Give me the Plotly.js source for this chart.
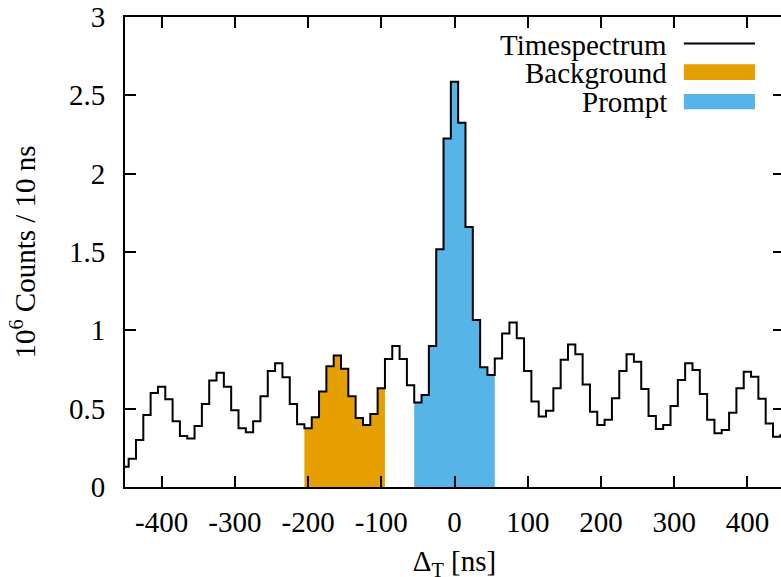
<!DOCTYPE html>
<html>
<head>
<meta charset="utf-8">
<script src="https://cdn.plot.ly/plotly-3.0.1.min.js"></script>
<style>
html,body{margin:0;padding:0;overflow:hidden;background:#fff;}
#chart{width:786px;height:581px;}
</style>
</head>
<body>
<div id="chart"></div>
<script>
// Bin centres (ns), 10 ns bins
const deltaT = [-450,-440,-430,-420,-410,-400,-390,-380,-370,-360,-350,-340,-330,-320,-310,-300,
  -290,-280,-270,-260,-250,-240,-230,-220,-210,-200,-190,-180,-170,-160,-150,-140,-130,-120,-110,-100,
  -90,-80,-70,-60,-50,-40,-30,-20,-10,0,10,20,30,40,50,60,70,80,90,100,
  110,120,130,140,150,160,170,180,190,200,210,220,230,240,250,260,270,280,290,300,
  310,320,330,340,350,360,370,380,390,400,410,420,430,440,450];
// Counts in units of 10^6 per 10 ns
const counts = [0.13,0.18,0.30,0.46,0.60,0.64,0.56,0.42,0.325,0.31,0.39,0.53,0.68,0.73,0.64,0.49,
  0.375,0.35,0.42,0.58,0.74,0.79,0.70,0.53,0.40,0.375,0.445,0.61,0.77,0.84,0.755,0.58,0.44,0.395,0.466,0.63,
  0.817,0.90,0.817,0.65,0.54,0.587,0.90,1.517,2.225,2.587,2.325,1.66,1.066,0.764,0.715,0.82,0.98,1.05,0.95,0.74,
  0.545,0.45,0.487,0.63,0.813,0.91,0.847,0.655,0.48,0.395,0.43,0.566,0.74,0.847,0.80,0.625,0.453,0.37,0.395,0.517,
  0.683,0.79,0.747,0.593,0.43,0.343,0.364,0.474,0.63,0.736,0.704,0.564,0.406,0.32,0.33];
const binWidth = 10;
const backgroundWindow = [-200, -100];
const promptWindow = [-50, 50];
const xTickVals = [-400,-300,-200,-100,0,100,200,300,400];
const xTickText = ["-400","-300","-200","-100","0","100","200","300","400"];
const yTickVals = [0,0.5,1,1.5,2,2.5,3];
const yTickText = ["0","0.5","1","1.5","2","2.5","3"];
const legendLabels = ["Timespectrum","Background","Prompt"];
const colors = {line:"#000000", background:"#E69F00", prompt:"#56B4E9"};

function stepFill(win){
  const xs=[], ys=[];
  for(let i=0;i<deltaT.length;i++){
    const c=deltaT[i];
    if(c>=win[0] && c<=win[1]){
      xs.push(c-binWidth/2, c+binWidth/2);
      ys.push(counts[i], counts[i]);
    }
  }
  return {x:xs,y:ys};
}
const bg = stepFill(backgroundWindow);
const pr = stepFill(promptWindow);

const FONT = "'Liberation Serif', 'DejaVu Serif', serif";
const FS = 29;

const traces = [
  {type:"scatter", mode:"lines", x:bg.x, y:bg.y, fill:"tozeroy", fillcolor:colors.background,
   line:{width:0,color:colors.background}, showlegend:false, hoverinfo:"skip"},
  {type:"scatter", mode:"lines", x:pr.x, y:pr.y, fill:"tozeroy", fillcolor:colors.prompt,
   line:{width:0,color:colors.prompt}, showlegend:false, hoverinfo:"skip"},
  {type:"scatter", mode:"lines", x:deltaT, y:counts, line:{shape:"hvh", color:colors.line, width:2},
   showlegend:false, name:legendLabels[0]}
];

// custom legend (text left, sample right, gnuplot style)
const legY = [0.940, 0.881, 0.820];
const annotations = legendLabels.map((t,i)=>({
  xref:"paper", yref:"paper", x:0.826, y:legY[i], xanchor:"right", yanchor:"middle",
  text:t, showarrow:false, font:{family:FONT,size:FS,color:"#000"}
}));
const shapes = [
  {type:"line", xref:"paper", yref:"paper", x0:0.848, x1:0.956, y0:0.9436, y1:0.9436, line:{color:colors.line,width:2}},
  {type:"rect", xref:"paper", yref:"paper", x0:0.848, x1:0.956, y0:0.8662, y1:0.8996, fillcolor:colors.background, line:{width:0}},
  {type:"rect", xref:"paper", yref:"paper", x0:0.848, x1:0.956, y0:0.8036, y1:0.836, fillcolor:colors.prompt, line:{width:0}}
];

const layout = {
  width:786, height:581,
  margin:{l:125, r:2, t:17, b:94},
  paper_bgcolor:"#fff", plot_bgcolor:"#fff",
  font:{family:FONT, size:FS, color:"#000"},
  showlegend:false,
  xaxis:{range:[-450,450], tickvals:xTickVals, ticktext:xTickText, ticks:"inside", ticklen:11, tickwidth:2,
    tickcolor:"#000", showline:true, linecolor:"#000", linewidth:2, mirror:"ticks", showgrid:false, zeroline:false,
    ticklabelstandoff:8, automargin:false,
    title:{text:"Δ<sub>T</sub> [ns]", font:{family:FONT,size:FS}, standoff:18}},
  yaxis:{range:[0,3], tickvals:yTickVals, ticktext:yTickText, ticks:"inside", ticklen:11, tickwidth:2,
    tickcolor:"#000", showline:true, linecolor:"#000", linewidth:2, mirror:"ticks", showgrid:false, zeroline:false,
    ticklabelstandoff:12, automargin:false,
    title:{text:"10<sup>6</sup> Counts / 10 ns", font:{family:FONT,size:FS}, standoff:25}},
  annotations:annotations,
  shapes:shapes
};

Plotly.newPlot("chart", traces, layout, {staticPlot:true, displayModeBar:false});
</script>
</body>
</html>
